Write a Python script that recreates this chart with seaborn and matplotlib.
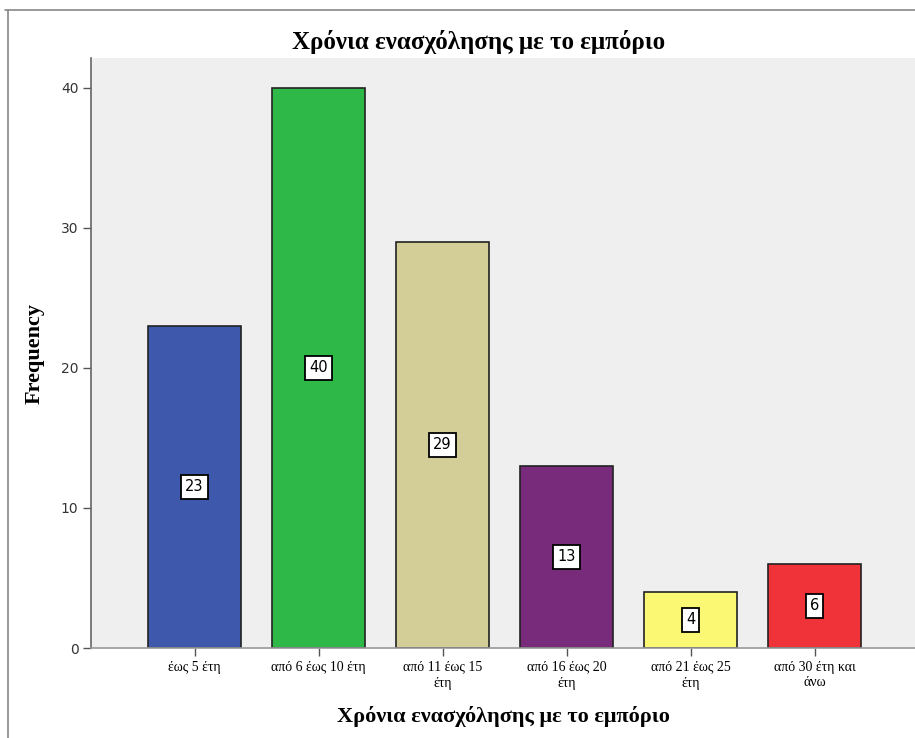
import matplotlib
matplotlib.use("Agg")
import matplotlib.pyplot as plt
import seaborn as sns
import pandas as pd

categories = ["έως 5 έτη", "από 6 έως 10 έτη", "από 11 έως 15 έτη",
              "από 16 έως 20 έτη", "από 21 έως 25 έτη", "από 30 έτη και άνω"]
tick_labels = ["έως 5 έτη", "από 6 έως 10 έτη", "από 11 έως 15\nέτη",
               "από 16 έως 20\nέτη", "από 21 έως 25\nέτη", "από 30 έτη και\nάνω"]
frequency = [23, 40, 29, 13, 4, 6]
colors = ["#3E58AC", "#2EB848", "#D3CE97", "#782B7B", "#FBF873", "#EF3338"]
title = "Χρόνια ενασχόλησης με το εμπόριο"
xlabel = "Χρόνια ενασχόλησης με το εμπόριο"
ylabel = "Frequency"

sns.set_style("white")
plt.rcParams['font.family'] = ['DejaVu Sans']
plt.rcParams['text.color'] = 'black'
plt.rcParams['axes.labelcolor'] = 'black'
plt.rcParams['xtick.color'] = 'black'

df = pd.DataFrame({"cat": categories, "freq": frequency})

fig = plt.figure(figsize=(9.15, 7.38), dpi=100)
ax = fig.add_axes([91/915, 90/738, 1 - 91/915, 590/738])
ax.set_facecolor("#EFEFEF")

sns.barplot(data=df, x="cat", y="freq", hue="cat", palette=colors, legend=False,
            width=0.75, edgecolor="#222222", linewidth=1.2, saturation=1, ax=ax)

ax.set_xlim(-0.835, 5.81)
ax.set_ylim(0, 42.14)
ax.set_yticks([0, 10, 20, 30, 40])
ax.set_yticklabels(["0", "10", "20", "30", "40"], fontsize=10, color="#333333")
ax.set_xticks(range(len(categories)))
ax.set_xticklabels(tick_labels, fontsize=10, family="Liberation Serif",
                   linespacing=1.3, color="black")
ax.tick_params(axis="both", direction="out", length=6, width=1, color="#555555",
               bottom=True, left=True, pad=3)

for s in ["top", "right"]:
    ax.spines[s].set_visible(False)
ax.spines["left"].set_color("#666666")
ax.spines["left"].set_linewidth(1.2)
ax.spines["bottom"].set_color("#999999")
ax.spines["bottom"].set_linewidth(1.2)

for i, v in enumerate(frequency):
    ax.text(i, v / 2, str(v), ha="center", va="center", fontsize=10.5, color="black",
            bbox=dict(boxstyle="square,pad=0.28", facecolor="white",
                      edgecolor="black", linewidth=1.3))

ax.set_xlabel(xlabel, family="Liberation Serif", fontweight="bold", fontsize=16,
              labelpad=12, color="black")
ax.set_ylabel(ylabel, family="Liberation Serif", fontweight="bold", fontsize=16,
              labelpad=12, color="black")

fig.text(479/915, 1 - 42/738, title, ha="center", va="center", color="black",
         family="Liberation Serif", fontweight="bold", fontsize=18)

# outer frame lines
fig.add_artist(plt.Line2D([5/915, 1], [1 - 10/738, 1 - 10/738],
                          color="#888888", linewidth=1.2, transform=fig.transFigure))
fig.add_artist(plt.Line2D([8/915, 8/915], [0, 1 - 10/738],
                          color="#888888", linewidth=1.2, transform=fig.transFigure))

fig.savefig("out.png", dpi=100)
